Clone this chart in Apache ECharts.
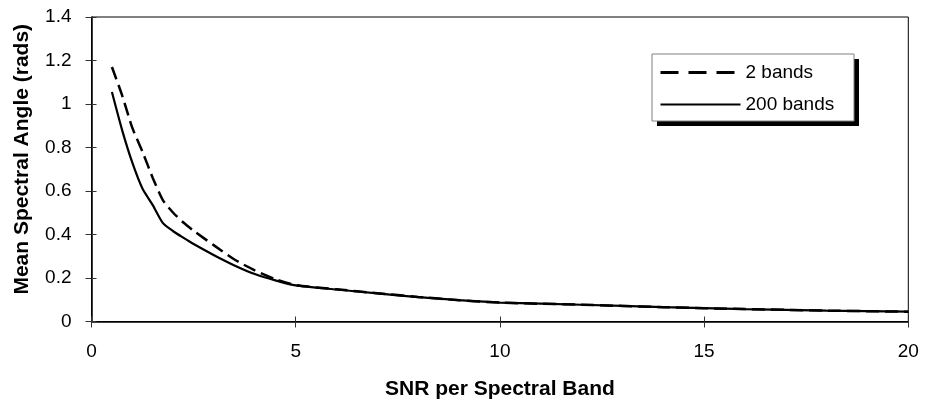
<!DOCTYPE html>
<html><head><meta charset="utf-8">
<script src="https://cdn.jsdelivr.net/npm/echarts@6/dist/echarts.min.js"></script>
<style>html,body{margin:0;padding:0;background:#fff}#c{width:926px;height:409px}</style>
</head><body><div id="c"></div>
<script>
const snr = [0.5,0.75,1,1.25,1.5,1.75,2,2.25,2.5,3,3.5,4,4.5,5,6,7,8,9,10,12,14,16,18,20];
const bands2 = [1.17,1.04,0.89,0.78,0.66,0.557,0.50,0.455,0.417,0.35,0.285,0.235,0.195,0.167,0.148,0.130,0.113,0.098,0.087,0.077,0.066,0.057,0.050,0.045];
const bands200 = [1.055,0.88,0.73,0.61,0.535,0.452,0.415,0.385,0.356,0.305,0.258,0.218,0.189,0.166,0.147,0.129,0.112,0.098,0.087,0.077,0.066,0.057,0.050,0.045];
const xTicks = [0,5,10,15,20];
const yTicks = [0,0.2,0.4,0.6,0.8,1,1.2,1.4];
const seriesNames = ['2 bands','200 bands'];

const font = 'Liberation Sans, Arial, sans-serif';
const chart = echarts.init(document.getElementById('c'));
const pair = (a)=>snr.map((x,i)=>[x,a[i]]);
chart.setOption({
  animation:false,
  backgroundColor:'#fff',
  grid: {left:91.5, right:17.7, top:17, bottom:87.5, show:true, borderColor:'#000', borderWidth:1, containLabel:false},
  graphic: [
    {type:'rect', z:1, shape:{x:657, y:59, width:202, height:67}, style:{fill:'#000'}},
    {type:'rect', z:2, shape:{x:652, y:54, width:202, height:67}, style:{fill:'#fff', stroke:'#808080', lineWidth:1}}
  ],
  legend: {
    z:10,
    orient:'vertical', left:652, top:54,
    padding:[9,20,9,7], itemGap:13, itemWidth:80, itemHeight:14, itemTextGap:6,
    backgroundColor:'transparent', borderWidth:0,
    itemStyle:{opacity:0},
    textStyle:{fontFamily:font, fontSize:19, color:'#000'},
    data: [
      {name:seriesNames[0], lineStyle:{type:[18,10], width:3}},
      {name:seriesNames[1], lineStyle:{width:2}}
    ]
  },
  xAxis: [{
    type:'value', min:0, max:20, interval:5, position:'bottom',
    name:'SNR per Spectral Band', nameLocation:'middle', nameGap:57,
    nameTextStyle:{fontFamily:font, fontSize:21, fontWeight:'bold', color:'#000'},
    axisLine:{show:true, onZero:false, lineStyle:{color:'#000', width:1.5}},
    axisTick:{show:true, length:6, lineStyle:{color:'#333'}},
    axisLabel:{fontFamily:font, fontSize:19, color:'#000', margin:21, formatter:(v)=>xTicks.includes(v)?String(v):''},
    splitLine:{show:false}
  },{
    type:'value', min:0, max:20, interval:5, position:'bottom',
    axisLine:{show:false, onZero:false},
    axisTick:{show:true, inside:true, length:5, lineStyle:{color:'#333'}},
    axisLabel:{show:false}, splitLine:{show:false}
  }],
  yAxis: [{
    type:'value', min:0, max:1.4, interval:0.2, position:'left',
    name:'Mean Spectral Angle (rads)', nameLocation:'middle', nameGap:59, nameRotate:90,
    nameTextStyle:{fontFamily:font, fontSize:21, fontWeight:'bold', color:'#000', padding:[0,0,0,20]},
    axisLine:{show:true, onZero:false, lineStyle:{color:'#000', width:1.5}},
    axisTick:{show:true, length:6, lineStyle:{color:'#333'}},
    axisLabel:{fontFamily:font, fontSize:19, color:'#000', margin:20, formatter:(v)=>{const t=yTicks.find(k=>Math.abs(k-v)<1e-9);return t===undefined?'':String(+t.toFixed(1));}},
    splitLine:{show:false}
  },{
    type:'value', min:0, max:1.4, interval:0.2, position:'left',
    axisLine:{show:false, onZero:false},
    axisTick:{show:true, inside:true, length:5, lineStyle:{color:'#333'}},
    axisLabel:{show:false}, splitLine:{show:false}
  }],
  series: [{
    name:seriesNames[0], type:'line', data:pair(bands2), smooth:0.2,
    symbol:'none', showSymbol:false, clip:true,
    lineStyle:{color:'#000', width:2.5, type:[13,6]}, itemStyle:{color:'#000'}
  },{
    name:seriesNames[1], type:'line', data:pair(bands200), smooth:0.2,
    symbol:'none', showSymbol:false, clip:true,
    lineStyle:{color:'#000', width:2.2, type:'solid'}, itemStyle:{color:'#000'}
  }]
});
</script></body></html>
